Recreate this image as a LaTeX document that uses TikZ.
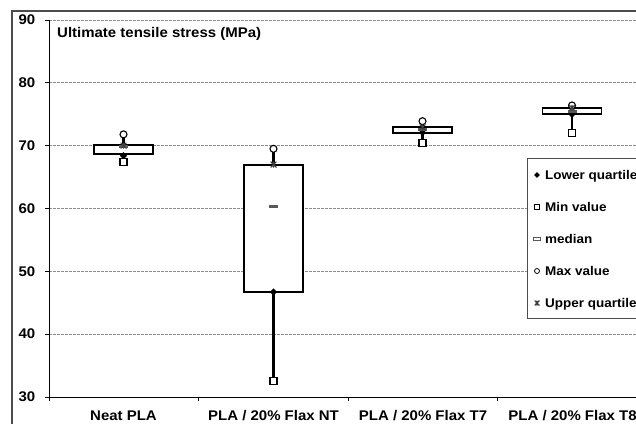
\documentclass[tikz,border=0pt]{standalone}
\usepackage{fontspec}
\setmainfont{Liberation Sans}[FakeStretch=1.07]
\usetikzlibrary{shapes.geometric}
\newcommand\Yv[1]{{26+((#1)-30)*6.283}}
\begin{document}
\begin{tikzpicture}[x=1pt,y=1pt,
  font=\bfseries\fontsize{14}{16}\selectfont,
  gridline/.style={black!45, dash pattern=on 2.5pt off 1.5pt, line width=0.7pt},
  boxs/.style={draw=black, fill=white, line width=1.7pt},
  whisk/.style={line width=2.3pt, draw=black},
  mxmark/.style={circle, draw=black, fill=white, line width=1.1pt, minimum size=7pt, inner sep=0pt},
  mnmark/.style={rectangle, draw=black, fill=white, line width=1.1pt, minimum size=7pt, inner sep=0pt},
  qlmark/.style={diamond, fill=black, minimum size=7.5pt, inner sep=0pt},
  medmark/.style={rectangle, fill=black!65, minimum width=9pt, minimum height=3pt, inner sep=0pt},
  qumark/.style={minimum size=6pt, inner sep=0pt, path picture={
      \draw[line width=1.1pt, black!75]
        (path picture bounding box.north west) -- (path picture bounding box.south east)
        (path picture bounding box.north east) -- (path picture bounding box.south west)
        (path picture bounding box.north) -- (path picture bounding box.south);}},
  ticklab/.style={anchor=east, inner sep=0pt},
  catlab/.style={anchor=base, inner sep=0pt},
  legtext/.style={anchor=base west, inner sep=0pt, font=\bfseries\fontsize{12.6}{14}\selectfont},
]
\useasboundingbox (0,0) rectangle (636,423);
\clip (0,0) rectangle (636,423);
% outer frame
\draw[black!70, line width=1.3pt] (12,-10) -- (12,412) -- (660,412);
% grid
\foreach \v in {40,50,...,90} {
  \draw[gridline] (49,\Yv{\v}) -- (640,\Yv{\v});
}
% axes
\draw[line width=0.9pt] (49,\Yv{90}) -- (49,\Yv{30}) -- (640,\Yv{30});
\foreach \v in {30,40,...,90} {
  \draw[line width=0.8pt] (45,\Yv{\v}) -- (49,\Yv{\v});
  \node[ticklab] (yl\v) at (35.5,\Yv{\v}) {\v};
}
\foreach \x in {49,198.5,348,497.5} {
  \draw[line width=0.8pt] (\x,\Yv{30}) -- (\x,22);
}
% title
\node[anchor=base west, inner sep=0pt] (title) at (57,385) {Ultimate tensile stress (MPa)};
% category labels
\node[catlab] (c1) at (123.5,3) {Neat PLA};
\node[catlab] (c2) at (273.5,3) {PLA / 20\% Flax NT};
\node[catlab] (c3) at (423,3) {PLA / 20\% Flax T7};
\node[catlab] (c4) at (572.5,3) {PLA / 20\% Flax T8};
% box plots: name, x, min, boxlow, boxhigh, median, max, q1 mark, q3 mark
\newcommand\bplot[9]{%
  \coordinate (#1-max) at (#2,\Yv{#7});
  \coordinate (#1-min) at (#2,\Yv{#3});
  \draw[whisk] (#1-max) -- (#1-min);
  \draw[boxs] ({#2-29.5},\Yv{#4}) rectangle ({#2+29.5},\Yv{#5});
  \node[qlmark] (#1-q1) at (#2,\Yv{#8}) {};
  \node[mnmark] (#1-mn) at (#1-min) {};
  \node[medmark] (#1-md) at (#2,\Yv{#6}) {};
  \node[mxmark] (#1-mx) at (#1-max) {};
  \node[qumark] (#1-q3) at (#2,\Yv{#9}) {};
}
\bplot{neat}{123.5}{67.36}{68.7}{70.1}{69.8}{71.8}{68.4}{70.0}
\bplot{nt}{273.5}{32.6}{46.7}{66.9}{60.3}{69.5}{46.7}{67.0}
\bplot{tseven}{422.5}{70.4}{72.0}{73.0}{72.6}{73.9}{72.1}{72.9}
\bplot{teight}{572}{72.05}{75.0}{76.0}{75.5}{76.4}{75.0}{76.0}
% legend
\draw[black!70, fill=white, line width=0.8pt] (527,105) rectangle (660,265);
\node[qlmark, minimum size=6pt] (lg1) at (537,248) {};
\node[legtext] (lt1) at (545,243.8) {Lower quartile};
\node[mnmark, minimum size=5.5pt, line width=0.8pt] (lg2) at (537,216) {};
\node[legtext] (lt2) at (545,211.8) {Min value};
\node[rectangle, draw=black!65, line width=0.8pt, minimum width=7pt, minimum height=2.5pt, inner sep=0pt] (lg3) at (537,184) {};
\node[legtext] (lt3) at (545,179.8) {median};
\node[mxmark, minimum size=5pt, line width=0.8pt] (lg4) at (537,152) {};
\node[legtext] (lt4) at (545,147.8) {Max value};
\node[qumark, minimum size=5pt] (lg5) at (537,120) {};
\node[legtext] (lt5) at (545,115.8) {Upper quartile};
\end{tikzpicture}
\end{document}
